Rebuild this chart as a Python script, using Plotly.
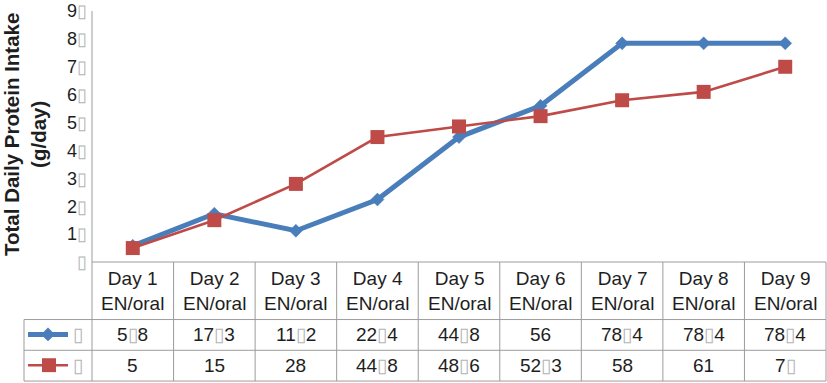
import plotly.graph_objects as go

# ---- data ----
categories = ["Day 1<br>EN/oral", "Day 2<br>EN/oral", "Day 3<br>EN/oral", "Day 4<br>EN/oral",
              "Day 5<br>EN/oral", "Day 6<br>EN/oral", "Day 7<br>EN/oral", "Day 8<br>EN/oral",
              "Day 9<br>EN/oral"]
series1 = [5.8, 17.3, 11.2, 22.4, 44.8, 56, 78.4, 78.4, 78.4]
series2 = [5, 15, 28, 44.8, 48.6, 52.3, 58, 61, 70]
y_ticks = [0, 10, 20, 30, 40, 50, 60, 70, 80, 90]
series_names = ["", ""]
y_title = "Total Daily Protein Intake<br>(g/day)"

BOX = '<span style="color:#b4b4b4">\u25AF</span>'


def fmt(v):
    s = ("%g" % v).replace(".", "\x00").replace("0", "\x00")
    return s.replace("\x00", BOX)


W, H = 827, 383
L, R, T, B = 92, 826, 9, 262
FONT = "Liberation Sans, Arial, sans-serif"
TXT = "#1e1e1e"
GRID = "#9c9c9c"
BLUE = "#4a7ebb"
RED = "#be4b48"


def px(x):
    return (x - L) / (R - L)


def py(y):
    return (B - y) / (B - T)


x_idx = list(range(len(categories)))

fig = go.Figure()
fig.add_trace(go.Scatter(x=x_idx, y=series1, mode="lines+markers", name=series_names[0],
                         line=dict(color=BLUE, width=5),
                         marker=dict(symbol="diamond", size=10, color=BLUE,
                                     line=dict(color=BLUE, width=0.5)),
                         cliponaxis=False))
fig.add_trace(go.Scatter(x=x_idx, y=series2, mode="lines+markers", name=series_names[1],
                         line=dict(color=RED, width=2.6),
                         marker=dict(symbol="square", size=14, color=RED,
                                     line=dict(color=RED, width=0)),
                         cliponaxis=False))

shapes = []
anns = []
ncol = len(categories)
colw = (R - L) / ncol

# table horizontal lines
for yy in [320, 351, 382]:
    shapes.append(dict(type="line", xref="paper", yref="paper", x0=px(24), x1=px(R),
                       y0=py(yy), y1=py(yy), line=dict(color=GRID, width=1)))
# left legend column border
shapes.append(dict(type="line", xref="paper", yref="paper", x0=px(24), x1=px(24),
                   y0=py(320), y1=py(382), line=dict(color=GRID, width=1)))
# y axis line extended through the table
shapes.append(dict(type="line", xref="paper", yref="paper", x0=px(L), x1=px(L),
                   y0=py(T), y1=py(382), line=dict(color=GRID, width=1)))
# x axis line
shapes.append(dict(type="line", xref="paper", yref="paper", x0=px(L), x1=px(R),
                   y0=py(B), y1=py(B), line=dict(color=GRID, width=1)))
# column separators
for k in range(1, ncol + 1):
    xx = L + k * colw
    shapes.append(dict(type="line", xref="paper", yref="paper", x0=px(xx), x1=px(xx),
                       y0=py(B), y1=py(382), line=dict(color=GRID, width=1)))

# legend keys
shapes.append(dict(type="line", xref="paper", yref="paper", x0=px(28), x1=px(68),
                   y0=py(335), y1=py(335), line=dict(color=BLUE, width=5)))
d = 7
shapes.append(dict(type="path", xref="paper", yref="paper",
                   path="M %f,%f L %f,%f L %f,%f L %f,%f Z" % (
                       px(48 - d), py(335), px(48), py(335 - d), px(48 + d), py(335), px(48), py(335 + d)),
                   fillcolor=BLUE, line=dict(color=BLUE, width=0)))
shapes.append(dict(type="line", xref="paper", yref="paper", x0=px(28), x1=px(68),
                   y0=py(366), y1=py(366), line=dict(color=RED, width=2.6)))
s = 7
shapes.append(dict(type="rect", xref="paper", yref="paper", x0=px(49 - s), x1=px(49 + s),
                   y0=py(366 - s), y1=py(366 + s), fillcolor=RED, line=dict(color=RED, width=0)))

for i, name in enumerate(series_names):
    anns.append(dict(xref="paper", yref="paper", x=px(78), y=py(335 + 31 * i),
                     text=name if name else BOX, showarrow=False,
                     font=dict(family=FONT, size=19, color=TXT), xanchor="center", yanchor="middle"))

# header & values
for i, c in enumerate(categories):
    anns.append(dict(xref="x", yref="paper", x=i, y=py(291.5), text=c, showarrow=False,
                     font=dict(family=FONT, size=19, color=TXT), xanchor="center", yanchor="middle"))
    anns.append(dict(xref="x", yref="paper", x=i, y=py(335.5), text=fmt(series1[i]), showarrow=False,
                     font=dict(family=FONT, size=19, color=TXT), xanchor="center", yanchor="middle"))
    anns.append(dict(xref="x", yref="paper", x=i, y=py(366.5), text=fmt(series2[i]), showarrow=False,
                     font=dict(family=FONT, size=19, color=TXT), xanchor="center", yanchor="middle"))

# y axis title
anns.append(dict(xref="paper", yref="paper", x=px(25), y=py(134), text="<b>%s</b>" % y_title,
                 textangle=-90, showarrow=False, font=dict(family=FONT, size=20.5, color=TXT),
                 xanchor="center", yanchor="middle"))

fig.update_layout(
    width=W, height=H,
    margin=dict(l=L, r=W - R, t=T, b=H - B, pad=0),
    paper_bgcolor="white", plot_bgcolor="white",
    showlegend=False,
    shapes=shapes, annotations=anns,
    xaxis=dict(range=[-0.5, ncol - 0.5], showticklabels=False, showgrid=False, zeroline=False,
               showline=False, ticks="", fixedrange=True),
    yaxis=dict(range=[0, 90], tickvals=y_ticks, ticktext=[fmt(v) for v in y_ticks],
               showgrid=False, zeroline=False, showline=False, ticks="",
               ticklabelstandoff=4, ticklabeloverflow="allow",
               tickfont=dict(family=FONT, size=18, color=TXT), fixedrange=True),
)

fig.write_html("out.html", config={"displayModeBar": False},
               post_script="document.body.style.margin='0';document.body.style.overflow='hidden';")
